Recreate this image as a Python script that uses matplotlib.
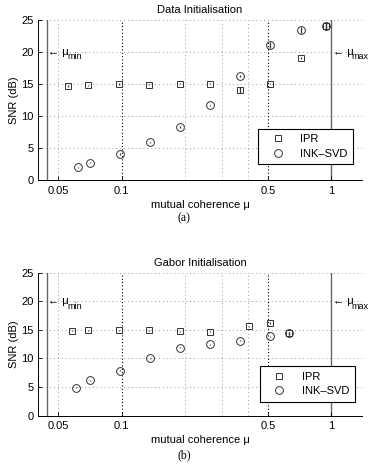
import matplotlib
matplotlib.use("Agg")
import matplotlib.pyplot as plt
from matplotlib.lines import Line2D
from matplotlib.ticker import FixedLocator, FixedFormatter, NullLocator

plt.rcParams['font.family'] = ['Liberation Sans', 'DejaVu Sans']

# ---- data ----
mu_min = 0.0442
mu_max = 1.0

# Data initialisation
a_ipr_mu = [0.0555, 0.0695, 0.097, 0.1355, 0.189, 0.263, 0.366, 0.511, 0.714, 0.947]
a_ipr_snr = [14.7, 14.8, 15.0, 14.9, 15.05, 15.05, 14.1, 15.05, 19.06, 24.1]
a_ipr_err = [0.1, 0.1, 0.1, 0.1, 0.1, 0.1, 0.45, 0.1, 0.15, 0.5]
a_ink_mu = [0.0618, 0.0705, 0.0981, 0.1367, 0.190, 0.263, 0.366, 0.511, 0.714, 0.947]
a_ink_snr = [2.0, 2.75, 4.1, 5.9, 8.3, 11.7, 16.25, 21.1, 23.4, 24.1]
a_ink_err = [0.1, 0.1, 0.15, 0.1, 0.1, 0.1, 0.15, 0.4, 0.5, 0.5]

# Gabor initialisation
b_ipr_mu = [0.0584, 0.0695, 0.097, 0.1355, 0.189, 0.263, 0.407, 0.511, 0.628]
b_ipr_snr = [14.83, 14.9, 14.9, 14.9, 14.78, 14.66, 15.6, 16.2, 14.37]
b_ipr_err = [0.1, 0.1, 0.1, 0.1, 0.1, 0.1, 0.1, 0.1, 0.2]
b_ink_mu = [0.0608, 0.0705, 0.0981, 0.1367, 0.190, 0.263, 0.367, 0.511, 0.628]
b_ink_snr = [4.85, 6.13, 7.82, 10.04, 11.85, 12.5, 13.1, 13.9, 14.37]
b_ink_err = [0.1, 0.1, 0.1, 0.1, 0.1, 0.1, 0.1, 0.1, 0.2]

xticks = [0.05, 0.1, 0.5, 1]
xticklabels = ['0.05', '0.1', '0.5', '1']
xgrid_light = [0.05, 0.2, 0.3, 0.4]
xgrid_dark = [0.1, 0.5]
yticks = [0, 5, 10, 15, 20, 25]
titles = ['Data Initialisation', 'Gabor Initialisation']
captions = ['(a)', '(b)']
labels = ['IPR', 'INK–SVD']

W, H = 369, 466
fig = plt.figure(figsize=(W / 100, H / 100), dpi=100)

def px_axes(left, right, top, bottom):
    return fig.add_axes([left / W, (H - bottom) / H, (right - left) / W, (bottom - top) / H])

ax_a = px_axes(38, 362, 20, 180.3)
ax_b = px_axes(38, 362, 272.7, 415.5)

panels = [
    (ax_a, a_ipr_mu, a_ipr_snr, a_ipr_err, a_ink_mu, a_ink_snr, a_ink_err, (0.973, 0.10)),
    (ax_b, b_ipr_mu, b_ipr_snr, b_ipr_err, b_ink_mu, b_ink_snr, b_ink_err, (0.978, 0.095)),
]

mc = '#333333'
for i, (ax, imu, isnr, ierr, kmu, ksnr, kerr, legpos) in enumerate(panels):
    ax.set_xscale('log')
    ax.set_xlim(0.04, 1.4)
    ax.set_ylim(0, 25)
    for yv in yticks[1:]:
        ax.axhline(yv, color='#999999', ls=(0, (1, 3)), lw=0.7, zorder=0)
    for xv in xgrid_light:
        ax.axvline(xv, color='#999999', ls=(0, (1, 3)), lw=0.7, zorder=0)
    for xv in xgrid_dark:
        ax.axvline(xv, color='black', ls=(0, (1, 2)), lw=0.8, zorder=0)
    ax.axvline(mu_min, color='#666666', lw=1.0, zorder=1)
    ax.axvline(mu_max, color='#666666', lw=1.0, zorder=1)

    ax.errorbar(imu, isnr, yerr=ierr, fmt='s', ms=4.0, mfc='none', mec=mc,
                mew=0.7, ecolor=mc, elinewidth=0.9, capsize=0, zorder=3)
    ax.errorbar(kmu, ksnr, yerr=kerr, fmt='o', ms=5.6, mfc='none', mec=mc,
                mew=0.7, ecolor=mc, elinewidth=0.9, capsize=0, zorder=3)

    ax.xaxis.set_major_locator(FixedLocator(xticks))
    ax.xaxis.set_major_formatter(FixedFormatter(xticklabels))
    ax.xaxis.set_minor_locator(NullLocator())
    ax.set_yticks(yticks)
    ax.tick_params(direction='in', length=3, width=0.6, labelsize=8, pad=4)
    ax.tick_params(axis='y', pad=3)
    for s in ['top', 'right']:
        ax.spines[s].set_visible(False)
    for s in ['left', 'bottom']:
        ax.spines[s].set_linewidth(0.7)

    ax.set_title(titles[i], fontsize=8, pad=5)
    ax.set_xlabel('mutual coherence μ', fontsize=8, labelpad=3)
    ax.set_ylabel('SNR (dB)', fontsize=8, labelpad=2)

    # mu_min / mu_max annotations
    for xv, sub in [(mu_min, 'min'), (mu_max, 'max')]:
        ax.annotate('← μ', xy=(xv, 20), xytext=(1, 0), textcoords='offset points',
                    fontsize=8, ha='left', va='center', annotation_clip=False)
        ax.annotate(sub, xy=(xv, 20), xytext=(14.5, -3.5), textcoords='offset points',
                    fontsize=6.5, ha='left', va='center', annotation_clip=False)

    handles = [Line2D([], [], ls='none', marker='s', ms=4.0, mfc='none', mec=mc, mew=0.7),
               Line2D([], [], ls='none', marker='o', ms=5.6, mfc='none', mec=mc, mew=0.7)]
    leg = ax.legend(handles, labels, loc='lower right', bbox_to_anchor=legpos, fontsize=8,
                    frameon=True, fancybox=False, edgecolor='black', framealpha=1,
                    borderpad=0.5, handletextpad=0.8, labelspacing=0.4, handlelength=2.5,
                    borderaxespad=0)
    leg.get_frame().set_linewidth(0.8)

fig.text(184 / W, 1 - 218 / H, captions[0], family='Liberation Serif', fontsize=8.5,
         ha='center', va='center')
fig.text(184 / W, 1 - 455 / H, captions[1], family='Liberation Serif', fontsize=8.5,
         ha='center', va='center')

fig.savefig('out.png', dpi=100)
